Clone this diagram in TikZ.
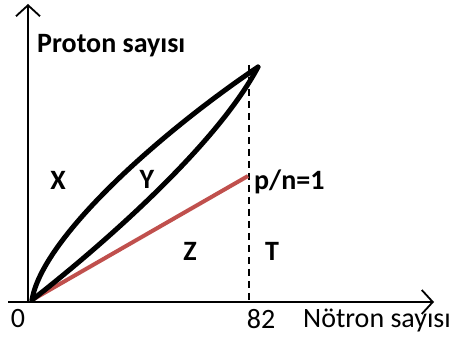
\documentclass[tikz,border=0pt]{standalone}
\usepackage{fontspec}
\setmainfont{Carlito}
\usetikzlibrary{arrows.meta}
\definecolor{pnred}{RGB}{192,80,77}

\begin{document}
\begin{tikzpicture}[x=1pt,y=1pt,
  axisline/.style={line width=1.8pt,-{Straight Barb[length=11pt,width=24pt,line width=1.8pt]}},
  lensline/.style={line width=5pt,line cap=round},
  lbl/.style={font=\fontsize{28}{32}\selectfont\bfseries,inner sep=0pt},
  numlbl/.style={font=\fontsize{28}{32}\selectfont,inner sep=0pt}]
\useasboundingbox (0,0) rectangle (456,338);
\coordinate (xstart) at (8,36); \coordinate (xend) at (434,36);
\coordinate (ybot) at (28,36); \coordinate (ytop) at (28,334);
\coordinate (orig) at (32,38); \coordinate (apex) at (258,271);
\coordinate (dtop) at (249,273); \coordinate (dbot) at (249,36);
\coordinate (redend) at (248,162);
\draw[axisline] (xstart)--(xend);
\draw[axisline] (ybot)--(ytop);
\draw[line width=1.6pt,dash pattern=on 7pt off 5pt] (dtop)--(dbot);
\draw[line width=4pt,pnred] (orig)--(redend);
\draw[lensline] (orig) .. controls (42,100) and (160,205) .. (apex);
\draw[lensline] (orig) .. controls (95,87) and (215,190) .. (apex);
\node[lbl,anchor=west] (ptext) at (37,292) {Proton sayısı};
\node[numlbl,anchor=west] (ntext) at (303,18) {Nötron sayısı};
\node[numlbl] (zero) at (18,19) {0};
\node[numlbl] (eightytwo) at (261,19) {82};
\node[lbl] (xlab) at (58,158) {X};
\node[lbl] (ylab) at (147,159) {Y};
\node[lbl] (zlab) at (190,87) {Z};
\node[lbl] (tlab) at (272,87) {T};
\node[lbl,anchor=west] (pn) at (254,156) {p/n=1};
\end{tikzpicture}
\end{document}
